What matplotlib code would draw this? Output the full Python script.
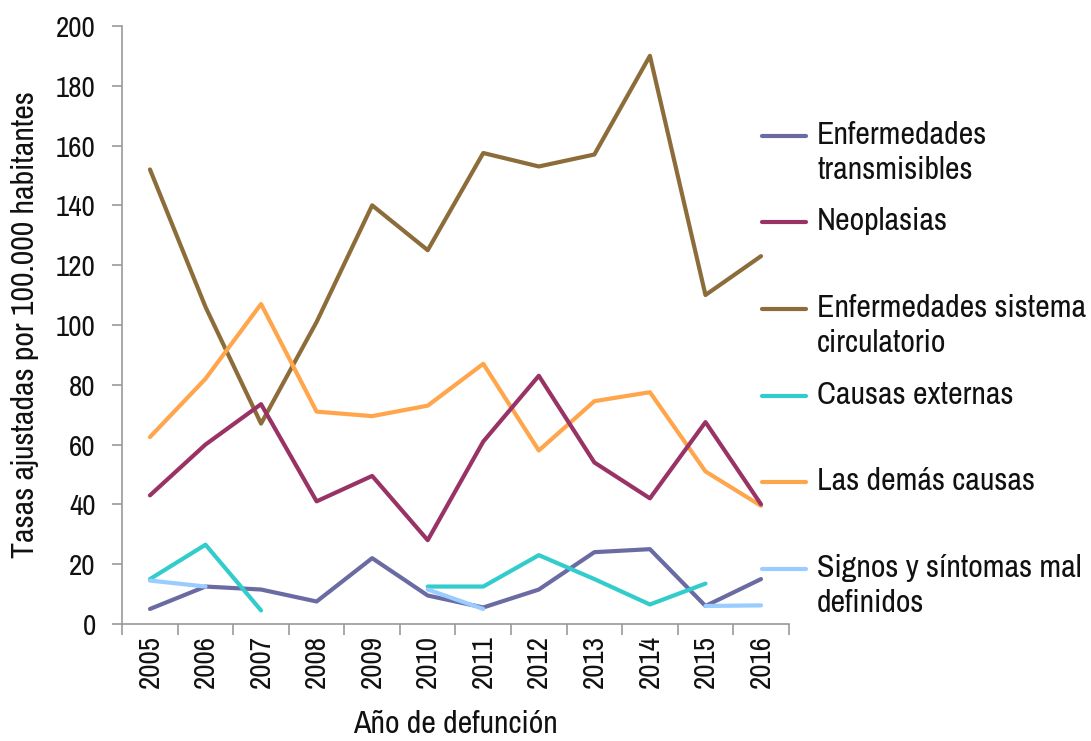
import numpy as np
import matplotlib.pyplot as plt
from matplotlib.lines import Line2D
from matplotlib import font_manager

# Try for a narrow sans (Arial Narrow look); otherwise plain Liberation Sans
narrow = [f for f in font_manager.fontManager.ttflist
          if "narrow" in f.name.lower() or "narrow" in f.fname.lower()]
if narrow:
    plt.rcParams["font.family"] = [narrow[0].name, "DejaVu Sans"]
    FS, TS = 23, 21
else:
    plt.rcParams["font.family"] = ["Liberation Sans", "DejaVu Sans"]
    FS, TS = 18, 17

years = ["2005", "2006", "2007", "2008", "2009", "2010",
         "2011", "2012", "2013", "2014", "2015", "2016"]
nan = np.nan
transmisibles = [5, 12.5, 11.5, 7.5, 22, 9.5, 5.5, 11.5, 24, 25, 6, 15]
neoplasias = [43, 60, 73.5, 41, 49.5, 28, 61, 83, 54, 42, 67.5, 40]
circulatorio = [152, 106, 67, 101, 140, 125, 157.5, 153, 157, 190, 110, 123]
externas = [15, 26.5, 4.5, nan, nan, 12.5, 12.5, 23, 15, 6.5, 13.5, nan]
demas = [62.5, 82, 107, 71, 69.5, 73, 87, 58, 74.5, 77.5, 51, 39.5]
signos = [14.5, 12.5, nan, nan, nan, 11.5, 5, nan, nan, nan, 6, 6.2]

labels = ["Enfermedades\ntransmisibles", "Neoplasias",
          "Enfermedades sistema\ncirculatorio", "Causas externas",
          "Las demás causas", "Signos y síntomas mal\ndefinidos"]
colors = ["#6B6BA3", "#993366", "#8C6D3A", "#33CCCC", "#FFA64D", "#99CCFF"]
series = [transmisibles, neoplasias, circulatorio, externas, demas, signos]

W, H = 1091, 741
fig = plt.figure(figsize=(W / 100, H / 100), dpi=100)
ax = fig.add_axes([0.112, 0.158, 0.611, 0.807])

x = np.arange(len(years))
for i in [2, 4, 1, 0, 3, 5]:
    ax.plot(x, series[i], color=colors[i], lw=3, solid_capstyle="round")

ax.set_xlim(-0.5, len(years) - 0.5)
ax.set_ylim(0, 200)
ax.set_yticks(range(0, 201, 20))
ax.set_xticks(x)
ax.set_xticklabels(years, rotation=90)
ax.set_xticks(np.arange(-0.5, len(years), 1), minor=True)
ax.tick_params(axis="x", which="major", length=0, labelsize=TS, pad=8,
               labelcolor="#111111")
ax.tick_params(axis="x", which="minor", length=8, color="#999999", width=1.2)
ax.tick_params(axis="y", length=7, color="#999999", width=1.2, labelsize=TS,
               labelcolor="#111111", pad=12)
for s in ["top", "right"]:
    ax.spines[s].set_visible(False)
for s in ["left", "bottom"]:
    ax.spines[s].set_color("#999999")
    ax.spines[s].set_linewidth(1.2)

# axis titles
fig.text(25 / W, 1 - 325 / H, "Tasas ajustadas por 100.000 habitantes",
         rotation=90, fontsize=FS, ha="center", va="center", color="#111111")
fig.text(455 / W, 1 - 724 / H, "Año de defunción", fontsize=FS,
         ha="center", va="center", color="#111111")

# legend drawn by hand: sample line level with the first text line
ys = [136, 222, 309, 396, 482, 569]
for lab, c, yy in zip(labels, colors, ys):
    yf = 1 - yy / H
    fig.add_artist(Line2D([762 / W, 806 / W], [yf, yf], color=c, lw=3,
                          solid_capstyle="round"))
    fig.text(817 / W, yf + 15 / H, lab, fontsize=FS, va="top", ha="left",
             linespacing=1.3, color="#111111")

fig.savefig("out.png", dpi=100)
